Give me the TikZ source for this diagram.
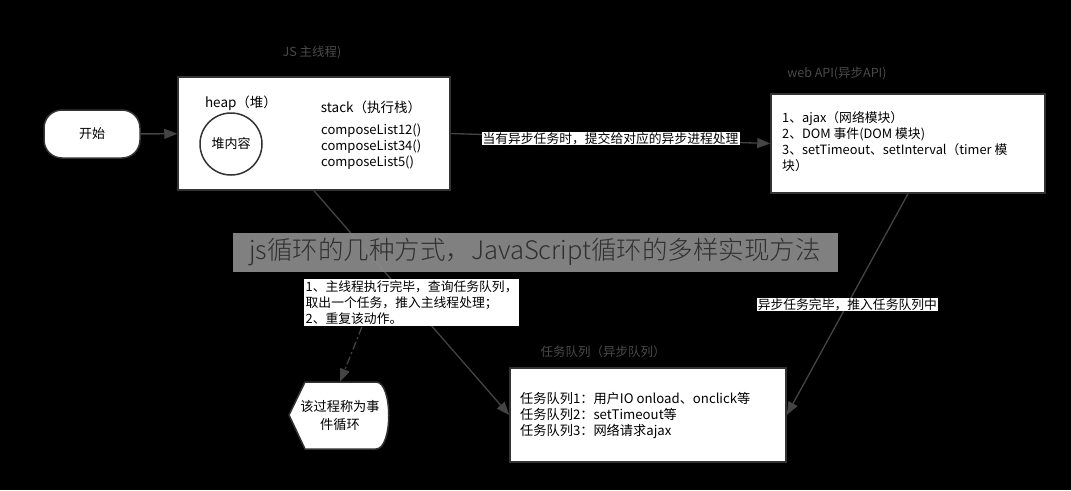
\documentclass[tikz,border=0pt]{standalone}
\usepackage{fontspec}
\setmainfont{Noto Sans CJK SC}
\newfontfamily\bannerfont{Noto Sans CJK SC Light}
\usetikzlibrary{arrows.meta,positioning,calc}
\definecolor{edgegray}{HTML}{444444}
\definecolor{boxborder}{HTML}{333333}
\definecolor{dimtext}{HTML}{4A4A4A}
\definecolor{bannergray}{HTML}{8A8A8A}
\definecolor{bannertext}{HTML}{303030}
\tikzset{
  whitebox/.style={draw=boxborder, fill=white, line width=1.5pt, inner sep=0pt},
  dimlabel/.style={text=dimtext, font=\fontsize{12.5}{14}\selectfont, inner sep=0pt},
  bodytext/.style={font=\fontsize{12.8}{16}\selectfont, align=left, inner sep=0pt, text=black},
  conn/.style={draw=edgegray, line width=1.3pt, -{Triangle[length=13pt,width=10pt]}},
  edgelabel/.style={fill=white, text=black, font=\fontsize{12.8}{16}\selectfont, align=left, inner sep=1pt},
}
\begin{document}
\begin{tikzpicture}[x=1pt,y=-1pt]
\path[fill=black] (0,0) rectangle (1071,490);
\useasboundingbox (0,0) rectangle (1071,490);

% group titles
\node[dimlabel] (tjs) at (312,52) {JS 主线程)};
\node[dimlabel] (tweb) at (837,73) {web API(异步API)};
\node[dimlabel] (ttq) at (603,352) {任务队列（异步队列）};

% start
\node[whitebox, rounded corners=18pt, minimum width=96pt, minimum height=48pt,
      font=\fontsize{13}{16}\selectfont] (start) at (92,134) {开始};

% main thread box
\node[whitebox, minimum width=272pt, minimum height=113pt] (main) at (314,133.5) {};
\node[font=\fontsize{13.5}{16}\selectfont, inner sep=0pt] (heap) at (241,103) {heap（堆）};
\node[draw=boxborder, fill=white, line width=1.5pt, circle, minimum size=62pt,
      inner sep=0pt, font=\fontsize{13}{16}\selectfont] (heapc) at (231,144) {堆内容};
\node[font=\fontsize{13.5}{16}\selectfont, inner sep=0pt] (stack) at (371,107) {stack（执行栈）};
\node[bodytext, anchor=north west, font=\fontsize{13}{16}\selectfont] (stk) at (321,124)
  {composeList12()\\composeList34()\\composeList5()};

% web api box
\node[whitebox, minimum width=274pt, minimum height=99pt] (web) at (908,143.5) {};
\node[bodytext, anchor=north west] (webtxt) at (782,111)
  {1、ajax（网络模块）\\2、DOM 事件(DOM 模块)\\3、setTimeout、setInterval（timer 模\\块）};

% task queue box
\node[whitebox, minimum width=276pt, minimum height=94pt] (tq) at (648,415) {};
\node[bodytext, anchor=north west, font=\fontsize{13.2}{16}\selectfont] (tqtxt) at (520,392)
  {任务队列1：用户IO onload、onclick等\\任务队列2：setTimeout等\\任务队列3：网络请求ajax};

% event loop display shape
\path[whitebox] (289,415) -- (305,382) -- (376,382)
  .. controls (393,382) and (393,449) .. (376,449) -- (305,449) -- cycle;
\node[minimum width=101pt, minimum height=67pt, inner sep=0pt, align=center,
      font=\fontsize{13.2}{18}\selectfont] (hex) at (340,415.5) {该过程称为事\\件循环};

% connectors
\draw[conn] (start) -- (main);
\draw[conn] (main.east) -- node[edgelabel, inner ysep=0.5pt] (lab1) {当有异步任务时，提交给对应的异步进程处理} (web.west);
\draw[conn] (main.south) -- node[edgelabel, minimum width=215pt, minimum height=47pt, inner xsep=0.5pt] (lab2)
  {1、主线程执行完毕，查询任务队列，\\取出一个任务，推入主线程处理；\\2、重复该动作。} (tq.west);
\draw[conn] (web.south) -- node[edgelabel, inner ysep=0.5pt] (lab3) {异步任务完毕，推入任务队列中} (tq.east);
\coordinate (dstart) at ($(lab2.south west)!0.27!(lab2.south east)$);
\draw[conn, dash pattern=on 8pt off 3pt on 2pt off 3pt] (dstart) -- (hex.north);

% banner overlay
\node[fill=bannergray, fill opacity=0.93, text opacity=1, text=bannertext,
      minimum width=605pt, minimum height=39pt, inner sep=0pt,
      font=\bannerfont\fontsize{25.5}{30}\selectfont] (banner) at (535,252)
  {js循环的几种方式，JavaScript循环的多样实现方法};
\end{tikzpicture}
\end{document}
